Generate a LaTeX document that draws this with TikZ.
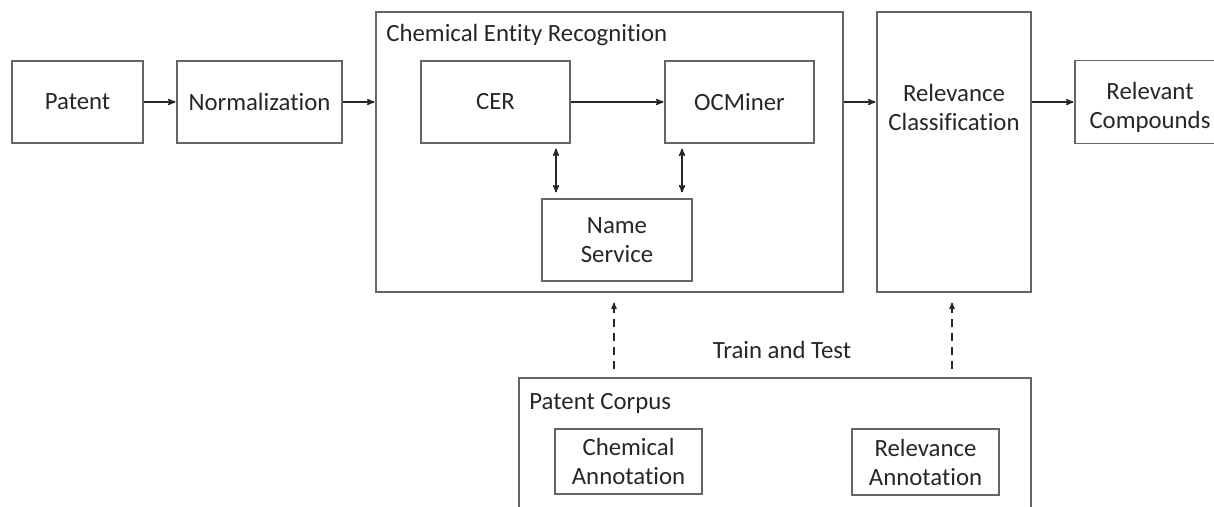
\documentclass[tikz,border=0pt]{standalone}
\usepackage{fontspec}
\setmainfont{Carlito}[Ligatures=NoCommon]
\usetikzlibrary{arrows}

\begin{document}
\begin{tikzpicture}[x=1pt,y=-1pt,>=stealth',shorten >=1pt,
                thick,box/.style={rectangle,draw=black!60,line width=1.2pt,inner sep=0pt,
                  align=center,text=black!85,font=\fontsize{24.8}{29}\selectfont},
                tag/.style={inner sep=0pt,text=black!85,font=\fontsize{24.8}{29}\selectfont},
                flow/.style={->,draw=black!85,line width=1.5pt},
                train/.style={->,draw=black!85,line width=1.3pt,dash pattern=on 8pt off 6pt}]

  \useasboundingbox (0,0) rectangle (1214,506);
  \clip (0,0) rectangle (1214,506);

  % pipeline
  \node[box,minimum width=131pt,minimum height=82pt] (patent) at (77.5,102) {Patent};
  \node[box,minimum width=165pt,minimum height=82pt] (normal) at (259.5,102) {Normalization};

  \node[box,minimum width=467pt,minimum height=280pt] (cerbox) at (609.5,152) {};
  \node[tag,anchor=base west] (certitle) at (386,41) {Chemical Entity Recognition};
  \node[box,minimum width=149pt,minimum height=82pt] (cer) at (495.5,102) {CER};
  \node[box,minimum width=149pt,minimum height=82pt] (ocminer) at (739.5,102) {OCMiner};
  \node[box,minimum width=150pt,minimum height=82pt] (names) at (617,240) {Name\\Service};

  \node[box,minimum width=154pt,minimum height=280pt] (relclass) at (954,152) {};
  \node[tag,align=center] (relclasstxt) at (954,107) {Relevance\\Classification};
  \node[box,minimum width=150pt,minimum height=83pt] (relcomp) at (1150,102) {};
  \node[tag,align=center] (relcomptxt) at (1150,107) {Relevant\\Compounds};

  % training data
  \node[box,minimum width=512pt,minimum height=150pt] (corpus) at (775,453) {};
  \node[tag,anchor=base west] (corpustitle) at (529,409) {Patent Corpus};
  \node[box,minimum width=147pt,minimum height=65pt] (chemann) at (628.5,461.5) {Chemical\\Annotation};
  \node[box,minimum width=147pt,minimum height=66pt] (relann) at (925.5,462) {Relevance\\Annotation};
  \node[tag,anchor=base] (traintest) at (782,358) {Train and Test};

  \coordinate (v1) at (556,0);
  \coordinate (v2) at (682,0);
  \coordinate (d1) at (614,0);
  \coordinate (d2) at (952,0);

  \path[flow]
    (patent) edge (normal)
    (cer) edge (ocminer);
  \draw[flow] (normal.east) -- (normal.east -| cerbox.west);
  \draw[flow] (cerbox.east |- cer) -- (relclass.west |- cer);
  \draw[flow] (relclass.east |- relcomp) -- (relcomp.west);

  \draw[flow,<->,shorten <=5pt,shorten >=6pt] (cer.south -| v1) -- (names.north -| v1);
  \draw[flow,<->,shorten <=5pt,shorten >=6pt] (ocminer.south -| v2) -- (names.north -| v2);

  \draw[train,shorten <=8pt,shorten >=10pt] (corpus.north -| d1) -- (cerbox.south -| d1);
  \draw[train,shorten <=8pt,shorten >=10pt] (corpus.north -| d2) -- (relclass.south -| d2);
\end{tikzpicture}
\end{document}
